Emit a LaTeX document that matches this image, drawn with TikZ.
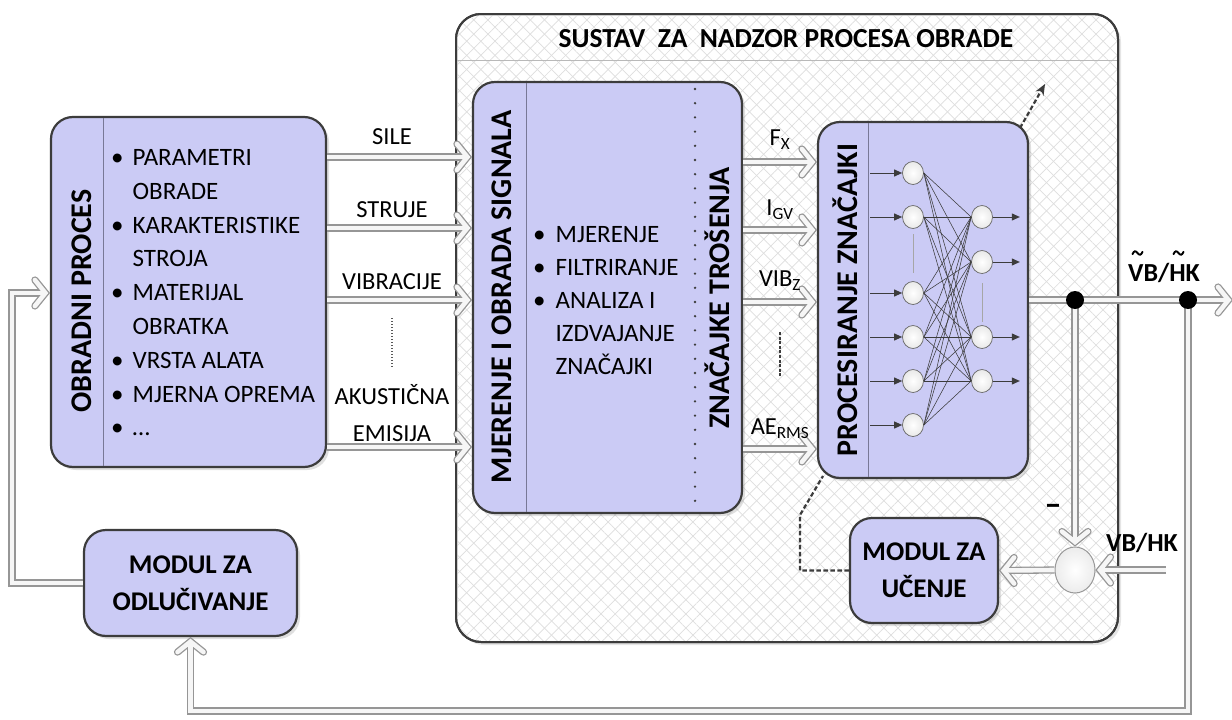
\documentclass[tikz,border=0pt]{standalone}
\usepackage{fontspec}
\setmainfont{Carlito}
\usetikzlibrary{arrows.meta,shapes.geometric,patterns.meta,shadows}
\definecolor{boxfill}{RGB}{203,203,245}
\definecolor{boxline}{RGB}{60,60,60}
\definecolor{hatch}{RGB}{222,222,222}
\definecolor{flowline}{RGB}{150,150,150}
\definecolor{flowfill}{RGB}{246,246,246}
\definecolor{divline}{RGB}{120,120,150}
\definecolor{nngray}{RGB}{60,60,60}
\newcommand\fsz[2]{\fontsize{#1}{#2}\selectfont}
% hollow double-line arrow: #1 path, #2 end coordinate, #3 direction angle
\newcommand\flowarrow[3]{%
  \draw[flowline, line width=7.2pt, line join=miter, shorten >=6pt] #1;
  \begin{scope}[shift={#2}, rotate=#3]
    \draw[flowline, line width=7.2pt, line join=miter, line cap=round] (-15,-13) -- (-4.5,0) -- (-15,13);
  \end{scope}
  \draw[flowfill, line width=4.6pt, line join=miter, shorten >=6pt] #1;
  \begin{scope}[shift={#2}, rotate=#3]
    \draw[flowfill, line width=4.6pt, line join=miter, line cap=round] (-15,-13) -- (-4.5,0) -- (-15,13);
  \end{scope}}
\begin{document}
\begin{tikzpicture}[x=1pt,y=-1pt,
  box/.style={draw=boxline, line width=2.2pt, fill=boxfill, rounded corners=22pt,
    drop shadow={shadow xshift=3pt, shadow yshift=-3pt, opacity=0.25}},
  divider/.style={draw=divline, line width=1pt},
  neuron/.style={ellipse, draw=gray!80!black, line width=0.7pt, inner color=white, outer color=gray!18, minimum width=21pt, minimum height=23pt, inner sep=0pt},
  nnline/.style={draw=nngray, line width=0.55pt},
  nnarr/.style={draw=nngray, line width=1pt, -{Triangle[length=8pt,width=7pt]}},
  dotn/.style={circle, fill=black, minimum size=18pt, inner sep=0pt},
  lbl/.style={font=\fsz{24.5}{30}, align=center, inner sep=0pt},
  heading/.style={font=\bfseries\fsz{30}{30}, inner sep=0pt},
  btext/.style={font=\bfseries\fsz{27}{37}, align=center, inner sep=0pt},
  learn/.style={draw=nngray, line width=2.2pt, dash pattern=on 4.5pt off 2.5pt},
  tildemark/.style={draw=black, line width=1.9pt, line cap=round}
]
\useasboundingbox (0,0) rectangle (1232,720);
\fill[white] (0,0) rectangle (1232,720);

% outer system box
\node[draw=boxline, line width=2pt, fill=white, rounded corners=25pt, minimum width=662pt, minimum height=628pt,
  drop shadow={shadow xshift=3pt, shadow yshift=-3pt, opacity=0.2}] (sys) at (787,328) {};
\fill[rounded corners=25pt, pattern={Lines[angle=45,distance=10pt,line width=0.7pt]}, pattern color=hatch] (457,15) rectangle (1117,641);
\fill[rounded corners=25pt, pattern={Lines[angle=-45,distance=10pt,line width=0.7pt]}, pattern color=hatch] (457,15) rectangle (1117,641);
\draw[draw=boxline, line width=2pt, rounded corners=25pt] (456,14) rectangle (1118,642);
\draw[draw=gray!55, line width=1pt] (457,60) -- (1117,60);
\node[font=\bfseries\fsz{27.5}{30}, inner sep=0pt] (title) at (786,39) {SUSTAV\ \ ZA\ \ NADZOR PROCESA OBRADE};

% main boxes
\node[box, minimum width=275pt, minimum height=350pt] (obr) at (188.5,292) {};
\node[box, minimum width=269pt, minimum height=431pt] (mj) at (607.5,297.5) {};
\node[box, minimum width=210pt, minimum height=356pt] (pz) at (923,300) {};
\node[box, minimum width=213pt, minimum height=106pt] (mod) at (190.5,583) {};
\node[box, minimum width=148pt, minimum height=105pt] (uc) at (924,570.5) {};

% dividers
\draw[divider] (103,118) -- (103,466);
\draw[divider] (526,83) -- (526,512);
\draw[divider] (868,123) -- (868,477);
\draw[draw=nngray, line width=2.6pt, line cap=round, dash pattern=on 0pt off 14.2pt] (695,89) -- (695,510);

% box texts
\node[heading, rotate=90] (obrt) at (82,301) {OBRADNI PROCES};
\node[heading, rotate=90] (mjt) at (502,297) {MJERENJE I OBRADA SIGNALA};
\node[heading, rotate=90] (znt) at (717,298) {ZNAČAJKE TROŠENJA};
\node[heading, rotate=90] (pzt) at (845,300) {PROCESIRANJE ZNAČAJKI};
\node[anchor=west, font=\fsz{25}{33.8}, inner sep=0pt] (obrlist) at (111,294)
 {\begin{tabular}{@{}l@{\hspace{9pt}}l@{}}
 • & PARAMETRI\\ & OBRADE\\ • & KARAKTERISTIKE\\ & STROJA\\ • & MATERIJAL\\ & OBRATKA\\
 • & VRSTA ALATA\\ • & MJERNA OPREMA\\ • & …\end{tabular}};
\node[anchor=west, font=\fsz{25}{33}, inner sep=0pt] (mjlist) at (533,302)
 {\begin{tabular}{@{}l@{\hspace{10pt}}l@{}}
 • & MJERENJE\\ • & FILTRIRANJE\\ • & ANALIZA I\\ & IZDVAJANJE\\ & ZNAČAJKI\end{tabular}};
\node[btext] (modt) at (190.5,583) {MODUL ZA\\ODLUČIVANJE};
\node[btext] (uct) at (924,570.5) {MODUL ZA\\UČENJE};

% signal arrows and labels
\coordinate (s1) at (0,157); \coordinate (s2) at (0,228); \coordinate (s3) at (0,300); \coordinate (s4) at (0,447);
\coordinate (z1) at (0,162); \coordinate (z2) at (0,230); \coordinate (z3) at (0,302); \coordinate (z4) at (0,449);
\foreach \c in {s1,s2,s3,s4} {\flowarrow{(obr.east |- \c) -- (mj.west |- \c)}{(mj.west |- \c)}{0}}
\foreach \c in {z1,z2,z3,z4} {\flowarrow{(mj.east |- \c) -- (pz.west |- \c)}{(pz.west |- \c)}{0}}
\node[lbl] (l1) at (392,137) {SILE};
\node[lbl] (l2) at (392,210) {STRUJE};
\node[lbl] (l3) at (392,282) {VIBRACIJE};
\node[lbl, font=\fsz{24.5}{37}] (l4) at (392,413) {AKUSTIČNA\\EMISIJA};
\draw[draw=gray!70!black, line width=1.3pt, dash pattern=on 1pt off 2pt] (392,318) -- (392,367);
\node[lbl] (f1) at (780,140) {F\textsubscript{X}};
\node[lbl] (f2) at (780,210) {I\textsubscript{GV}};
\node[lbl] (f3) at (780,281) {VIB\textsubscript{Z}};
\node[lbl] (f4) at (780,429) {AE\textsubscript{RMS}};
\draw[draw=nngray, line width=1.5pt, dash pattern=on 3pt off 1.6pt] (780,332) -- (780,377);

% neural network
\foreach \y [count=\i] in {173,217,293,337,381,425} \node[neuron] (i\i) at (913,\y) {};
\foreach \y [count=\j] in {217,262,337,381} \node[neuron] (o\j) at (982,\y) {};
\foreach \i in {1,...,6} \foreach \j in {1,...,4} \draw[nnline] (i\i.east) -- (o\j.west);
\foreach \i in {1,...,6} \draw[nnarr] ([xshift=-32pt]i\i.west) -- (i\i.west);
\foreach \j in {1,...,4} \draw[nnarr] (o\j.east) -- ([xshift=27pt]o\j.east);
\draw[draw=gray!70, line width=0.8pt] (913,234) -- (913,273);
\draw[draw=gray!70, line width=0.8pt] (982,283) -- (982,322);

% learning dashed lines
\coordinate (lc1) at (800,570.5);
\coordinate (lc2) at (800,515);
\coordinate (lc3) at (823,476);
\draw[learn] (uc.west) -- (lc1) -- (lc2) -- (lc3);
\coordinate (ld1) at (1020,128);
\coordinate (ld2) at (1045,84);
\draw[learn, -{Stealth[length=11pt,width=9pt]}] (ld1) -- (ld2);

% summing junction and outputs
\node[ellipse, draw=gray!80, line width=1pt, inner color=white, outer color=gray!15, minimum width=40pt, minimum height=46pt, inner sep=0pt] (sum) at (1075,570) {};
\coordinate (outR) at (1233,300);
\coordinate (vbin) at (1166,570);
\coordinate (b1) at (1188,711);
\coordinate (b2) at (190.5,711);
\coordinate (f1a) at (12,583);
\coordinate (f1b) at (12,293);
\coordinate (d1c) at (1075,300);
\coordinate (d2c) at (1188,300);
\flowarrow{(pz.east |- outR) -- (outR)}{(outR)}{0}
\flowarrow{(d1c) -- (sum.north)}{(sum.north)}{-90}
\flowarrow{(vbin) -- (sum.east)}{(sum.east)}{180}
\flowarrow{(sum.west) -- (uc.east)}{(uc.east)}{180}
\flowarrow{(d2c) -- (b1) -- (b2) -- (mod.south)}{(mod.south)}{90}
\flowarrow{(mod.west) -- (f1a) -- (f1b) -- (obr.west |- f1b)}{(obr.west |- f1b)}{0}
\node[dotn] (d1) at (d1c) {};
\node[dotn] (d2) at (d2c) {};
\node[font=\bfseries\fsz{34}{36}, inner sep=0pt] (minus) at (1053,510) {–};
\node[font=\bfseries\fsz{26}{30}, inner sep=0pt] (vbhk) at (1142,543) {VB/HK};
\node[font=\bfseries\fsz{26}{30}, inner sep=0pt] (vbhkt) at (1164,273) {VB/HK};
% tildes over V and H
\coordinate (tv) at (1137.5,253);
\coordinate (th) at (1178.5,253);
\foreach \c in {tv,th}
  \draw[tildemark] ([shift={(-5,1.2)}]\c) .. controls ([shift={(-3.5,-2.8)}]\c) and ([shift={(-1.5,-2.2)}]\c) .. (\c)
     .. controls ([shift={(1.5,2.2)}]\c) and ([shift={(3.5,2.8)}]\c) .. ([shift={(5,-1.2)}]\c);
\end{tikzpicture}
\end{document}
